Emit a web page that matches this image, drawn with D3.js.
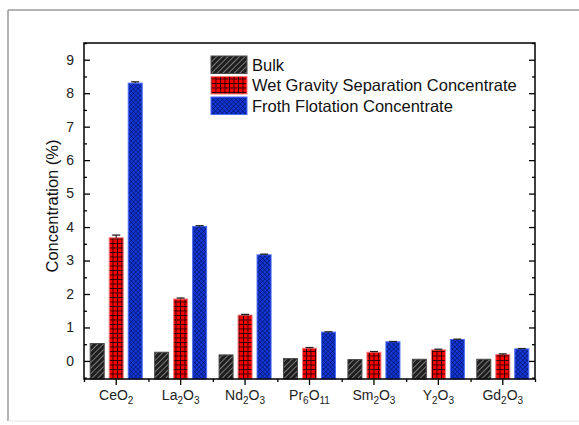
<!DOCTYPE html>
<html>
<head>
<meta charset="utf-8">
<script src="https://cdn.jsdelivr.net/npm/d3@7"></script>
<style>
  html, body { margin: 0; padding: 0; background: #fff; }
  svg { display: block; font-family: Arial, "Liberation Sans", sans-serif; }
</style>
</head>
<body>
<svg id="chart" width="579" height="425"></svg>
<script>
// Oxide categories: [base, subscript, base, subscript]
const categories = [
  ["Ce", "", "O", "2"],
  ["La", "2", "O", "3"],
  ["Nd", "2", "O", "3"],
  ["Pr", "6", "O", "11"],
  ["Sm", "2", "O", "3"],
  ["Y", "2", "O", "3"],
  ["Gd", "2", "O", "3"]
];
const seriesNames = ["Bulk", "Wet Gravity Separation Concentrate", "Froth Flotation Concentrate"];
const bulk     = [0.52, 0.26, 0.18, 0.07, 0.04, 0.05, 0.05];
const wetGrav  = [3.68, 1.85, 1.37, 0.38, 0.26, 0.33, 0.19];
const froth    = [8.30, 4.02, 3.17, 0.86, 0.57, 0.64, 0.36];
const bulkErr  = [0, 0, 0, 0, 0, 0, 0];
const wetErr   = [0.08, 0.03, 0.02, 0.02, 0.02, 0.02, 0.02];
const frothErr = [0.04, 0.02, 0.02, 0.01, 0.01, 0.01, 0.01];
const yTicks = [0, 1, 2, 3, 4, 5, 6, 7, 8, 9];

const svg = d3.select("#chart");
const margin = { left: 84, right: 44, top: 43, bottom: 46 };
const W = 579, H = 425;
const x0 = margin.left, x1 = W - margin.right, y0 = margin.top, y1 = H - margin.bottom;

// Outer figure frame
svg.append("line").attr("x1", 8).attr("x2", W).attr("y1", 10).attr("y2", 10).attr("stroke", "#9a9a9a").attr("stroke-width", 1.5);
svg.append("line").attr("x1", 8).attr("x2", 8).attr("y1", 10).attr("y2", 421).attr("stroke", "#9a9a9a").attr("stroke-width", 1.5);
svg.append("line").attr("x1", 8).attr("x2", W).attr("y1", 421).attr("y2", 421).attr("stroke", "#e4e4e4").attr("stroke-width", 1);

// Fill patterns
const defs = svg.append("defs");
const pBulk = defs.append("pattern").attr("id", "pBulk").attr("patternUnits", "userSpaceOnUse")
  .attr("width", 4).attr("height", 4).attr("patternTransform", "rotate(45)");
pBulk.append("rect").attr("width", 4).attr("height", 4).attr("fill", "#1e1e1e");
pBulk.append("line").attr("x1", 0).attr("x2", 0).attr("y1", 0).attr("y2", 4).attr("stroke", "#a0a0a0").attr("stroke-width", 1.4);

const pRed = defs.append("pattern").attr("id", "pRed").attr("patternUnits", "userSpaceOnUse")
  .attr("width", 4.5).attr("height", 4.5);
pRed.append("rect").attr("width", 4.5).attr("height", 4.5).attr("fill", "#ff0000");
pRed.append("line").attr("x1", 0.5).attr("x2", 0.5).attr("y1", 0).attr("y2", 4.5).attr("stroke", "#200000").attr("stroke-width", 0.9);
pRed.append("line").attr("x1", 0).attr("x2", 4.5).attr("y1", 0.5).attr("y2", 0.5).attr("stroke", "#200000").attr("stroke-width", 0.9);

const pBlue = defs.append("pattern").attr("id", "pBlue").attr("patternUnits", "userSpaceOnUse")
  .attr("width", 3.2).attr("height", 3.2).attr("patternTransform", "rotate(45)");
pBlue.append("rect").attr("width", 3.2).attr("height", 3.2).attr("fill", "#1438d8");
pBlue.append("line").attr("x1", 0).attr("x2", 0).attr("y1", 0).attr("y2", 3.2).attr("stroke", "#001060").attr("stroke-width", 1.1);
pBlue.append("line").attr("x1", 0).attr("x2", 3.2).attr("y1", 0).attr("y2", 0).attr("stroke", "#001060").attr("stroke-width", 1.1);

const fills = ["url(#pBulk)", "url(#pRed)", "url(#pBlue)"];
const strokes = ["#4a4a4a", "#ff7a7a", "#4a6cff"];
const values = [bulk, wetGrav, froth];
const errs = [bulkErr, wetErr, frothErr];

// Scales
const x = d3.scaleBand().domain(d3.range(categories.length)).range([x0, x1]).padding(0);
const y = d3.scaleLinear().domain([-0.54, 9.5]).range([y1, y0]);
const barW = 14, barStep = 19;

// Bars
const g = svg.append("g");
values.forEach((vals, s) => {
  vals.forEach((v, i) => {
    const cx = x(i) + x.bandwidth() / 2 + (s - 1) * barStep;
    g.append("rect")
      .attr("x", cx - barW / 2).attr("width", barW)
      .attr("y", y(v)).attr("height", y(y.domain()[0]) - y(v))
      .attr("fill", fills[s]).attr("stroke", strokes[s]).attr("stroke-width", 1);
    const e = errs[s][i];
    if (e > 0) {
      g.append("line").attr("x1", cx).attr("x2", cx).attr("y1", y(v)).attr("y2", y(v + e)).attr("stroke", "#000").attr("stroke-width", 1);
      g.append("line").attr("x1", cx - 4).attr("x2", cx + 4).attr("y1", y(v + e)).attr("y2", y(v + e)).attr("stroke", "#222").attr("stroke-width", 1.3);
    }
  });
});

// Axes
const minor = d3.range(-0.5, 9.51, 0.5).filter(t => !Number.isInteger(t));
const axL = svg.append("g").attr("transform", `translate(${x0},0)`)
  .call(d3.axisRight(y).tickValues(yTicks).tickSize(6).tickFormat(""));
const axLm = svg.append("g").attr("transform", `translate(${x0},0)`)
  .call(d3.axisRight(y).tickValues(minor).tickSize(3).tickFormat(""));
const axR = svg.append("g").attr("transform", `translate(${x1},0)`)
  .call(d3.axisLeft(y).tickValues(yTicks).tickSize(6).tickFormat(""));
const axRm = svg.append("g").attr("transform", `translate(${x1},0)`)
  .call(d3.axisLeft(y).tickValues(minor).tickSize(3).tickFormat(""));
const axB = svg.append("g").attr("transform", `translate(0,${y1})`)
  .call(d3.axisBottom(x).tickSize(6).tickFormat(""));
const bounds = d3.range(categories.length + 1).map(i => x0 + i * x.bandwidth());
const axBm = svg.append("g").attr("transform", `translate(0,${y1})`)
  .call(d3.axisBottom(d3.scaleLinear().domain([x0, x1]).range([x0, x1])).tickValues(bounds).tickSize(3).tickFormat(""));
[axL, axLm, axR, axRm, axB, axBm].forEach(a => {
  a.select(".domain").remove();
  a.selectAll("line").attr("stroke", "#000").attr("stroke-width", 1.3);
});

// Plot frame
svg.append("rect").attr("x", x0).attr("y", y0).attr("width", x1 - x0).attr("height", y1 - y0)
  .attr("fill", "none").attr("stroke", "#000").attr("stroke-width", 1.5);

// Y tick labels
svg.append("g").selectAll("text").data(yTicks).join("text")
  .attr("x", x0 - 10).attr("y", d => y(d)).attr("dy", "0.35em")
  .attr("text-anchor", "end").attr("font-size", 14).attr("fill", "#222").text(d => d);

// X tick labels with subscripts
const xl = svg.append("g").selectAll("text").data(categories).join("text")
  .attr("x", (d, i) => x(i) + x.bandwidth() / 2).attr("y", y1 + 21)
  .attr("text-anchor", "middle").attr("font-size", 14).attr("fill", "#222");
xl.each(function(d) {
  const t = d3.select(this);
  t.append("tspan").text(d[0]);
  if (d[1]) t.append("tspan").attr("font-size", 10).attr("dy", 4).text(d[1]);
  t.append("tspan").attr("dy", d[1] ? -4 : 0).text(d[2]);
  t.append("tspan").attr("font-size", 10).attr("dy", 4).text(d[3]);
});

// Y axis title
svg.append("text").attr("transform", `translate(58,${(y0 + y1) / 2 - 5}) rotate(-90)`)
  .attr("text-anchor", "middle").attr("font-size", 16.5).attr("fill", "#111").text("Concentration (%)");

// Legend
const leg = svg.append("g").attr("transform", "translate(211,56)");
seriesNames.forEach((name, s) => {
  leg.append("rect").attr("x", 0).attr("y", s * 20.5).attr("width", 36).attr("height", 17.5)
    .attr("fill", fills[s]).attr("stroke", strokes[s]).attr("stroke-width", 1);
  leg.append("text").attr("x", 41).attr("y", s * 20.5 + 9).attr("dy", "0.36em")
    .attr("font-size", 16.5).attr("fill", "#111").text(name);
});
</script>
</body>
</html>
